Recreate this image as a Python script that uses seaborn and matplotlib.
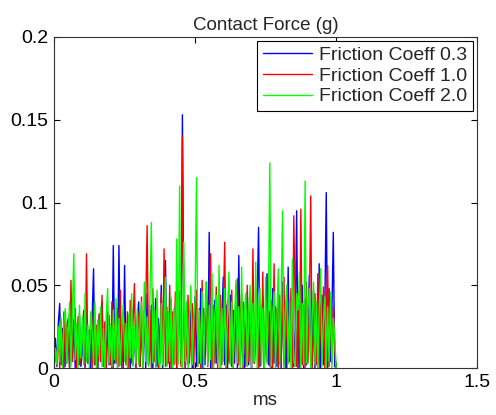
import numpy as np
import pandas as pd
import matplotlib
matplotlib.use("Agg")
import matplotlib.pyplot as plt
import matplotlib.ticker as mticker
import seaborn as sns

# time axis (ms), 0.005 ms step
time_ms = np.round(np.arange(0, 201) * 0.005, 3)

blue_03 = [
    0.000, 0.018, 0.001, 0.027, 0.039, 0.002, 0.024, 0.000, 0.031, 0.003, 0.022, 0.000, 0.035, 0.004, 0.029, 0.000, 0.026, 0.002, 0.033, 0.001,
    0.009, 0.028, 0.000, 0.036, 0.003, 0.023, 0.000, 0.030, 0.060, 0.002, 0.025, 0.000, 0.032, 0.004, 0.040, 0.001, 0.027, 0.000, 0.034, 0.002,
    0.021, 0.000, 0.074, 0.003, 0.030, 0.000, 0.074, 0.002, 0.026, 0.000, 0.062, 0.004, 0.013, 0.031, 0.000, 0.036, 0.002, 0.024, 0.000, 0.029,
    0.040, 0.001, 0.026, 0.003, 0.035, 0.000, 0.045, 0.002, 0.012, 0.038, 0.000, 0.015, 0.042, 0.001, 0.030, 0.003, 0.050, 0.000, 0.027, 0.065,
    0.002, 0.033, 0.000, 0.041, 0.004, 0.015, 0.037, 0.000, 0.028, 0.046, 0.003, 0.153, 0.031, 0.000, 0.039, 0.002, 0.017, 0.035, 0.000, 0.027,
    0.043, 0.001, 0.030, 0.003, 0.048, 0.000, 0.036, 0.002, 0.052, 0.004, 0.082, 0.000, 0.034, 0.001, 0.041, 0.003, 0.019, 0.047, 0.000, 0.031,
    0.055, 0.002, 0.038, 0.000, 0.029, 0.044, 0.001, 0.035, 0.003, 0.050, 0.000, 0.068, 0.004, 0.019, 0.040, 0.000, 0.009, 0.046, 0.002, 0.036,
    0.000, 0.053, 0.003, 0.018, 0.039, 0.085, 0.001, 0.011, 0.043, 0.000, 0.020, 0.057, 0.002, 0.034, 0.000, 0.048, 0.003, 0.037, 0.001, 0.045,
    0.031, 0.000, 0.052, 0.002, 0.040, 0.000, 0.061, 0.004, 0.019, 0.044, 0.001, 0.023, 0.095, 0.000, 0.038, 0.003, 0.050, 0.000, 0.042, 0.002,
    0.021, 0.056, 0.001, 0.014, 0.047, 0.000, 0.039, 0.003, 0.063, 0.000, 0.044, 0.002, 0.036, 0.106, 0.000, 0.048, 0.004, 0.033, 0.082, 0.001,
    0.000,
]

red_10 = [
    0.000, 0.010, 0.002, 0.021, 0.000, 0.028, 0.003, 0.034, 0.001, 0.025, 0.030, 0.000, 0.053, 0.004, 0.027, 0.036, 0.000, 0.031, 0.002, 0.006,
    0.022, 0.035, 0.001, 0.069, 0.003, 0.009, 0.029, 0.000, 0.037, 0.002, 0.026, 0.000, 0.033, 0.004, 0.044, 0.001, 0.028, 0.000, 0.023, 0.032,
    0.002, 0.040, 0.000, 0.027, 0.003, 0.036, 0.001, 0.047, 0.000, 0.030, 0.024, 0.002, 0.034, 0.000, 0.041, 0.003, 0.028, 0.051, 0.000, 0.025,
    0.033, 0.001, 0.043, 0.000, 0.029, 0.038, 0.086, 0.002, 0.035, 0.000, 0.048, 0.004, 0.019, 0.040, 0.000, 0.010, 0.045, 0.002, 0.072, 0.001,
    0.037, 0.003, 0.050, 0.000, 0.034, 0.002, 0.046, 0.000, 0.030, 0.041, 0.001, 0.140, 0.025, 0.000, 0.012, 0.044, 0.003, 0.020, 0.039, 0.000,
    0.032, 0.047, 0.002, 0.036, 0.000, 0.053, 0.004, 0.030, 0.042, 0.001, 0.034, 0.069, 0.000, 0.038, 0.003, 0.049, 0.000, 0.031, 0.044, 0.002,
    0.035, 0.076, 0.000, 0.041, 0.003, 0.012, 0.047, 0.000, 0.021, 0.039, 0.054, 0.002, 0.030, 0.045, 0.000, 0.037, 0.001, 0.050, 0.004, 0.040,
    0.000, 0.072, 0.003, 0.023, 0.046, 0.000, 0.038, 0.002, 0.058, 0.000, 0.035, 0.004, 0.048, 0.001, 0.041, 0.000, 0.063, 0.003, 0.036, 0.000,
    0.044, 0.002, 0.034, 0.055, 0.000, 0.040, 0.003, 0.013, 0.048, 0.000, 0.092, 0.036, 0.001, 0.043, 0.000, 0.096, 0.002, 0.038, 0.000, 0.052,
    0.003, 0.035, 0.104, 0.000, 0.018, 0.045, 0.002, 0.057, 0.000, 0.039, 0.004, 0.049, 0.000, 0.034, 0.062, 0.001, 0.041, 0.003, 0.037, 0.012,
    0.000,
]

green_20 = [
    0.000, 0.012, 0.002, 0.025, 0.004, 0.030, 0.000, 0.028, 0.036, 0.003, 0.022, 0.040, 0.001, 0.033, 0.069, 0.005, 0.027, 0.000, 0.038, 0.006,
    0.031, 0.002, 0.045, 0.004, 0.026, 0.000, 0.034, 0.021, 0.003, 0.040, 0.000, 0.029, 0.007, 0.037, 0.001, 0.024, 0.000, 0.032, 0.048, 0.003,
    0.026, 0.001, 0.035, 0.005, 0.042, 0.000, 0.030, 0.002, 0.023, 0.038, 0.004, 0.027, 0.000, 0.033, 0.006, 0.045, 0.001, 0.025, 0.003, 0.036,
    0.002, 0.029, 0.040, 0.000, 0.052, 0.004, 0.031, 0.001, 0.044, 0.088, 0.003, 0.035, 0.000, 0.047, 0.005, 0.000, 0.039, 0.002, 0.030, 0.055,
    0.001, 0.034, 0.004, 0.043, 0.000, 0.036, 0.003, 0.078, 0.002, 0.110, 0.006, 0.000, 0.076, 0.004, 0.040, 0.000, 0.032, 0.050, 0.002, 0.028,
    0.041, 0.115, 0.001, 0.035, 0.003, 0.046, 0.000, 0.030, 0.052, 0.002, 0.038, 0.005, 0.057, 0.000, 0.033, 0.044, 0.003, 0.062, 0.000, 0.036,
    0.004, 0.048, 0.001, 0.034, 0.058, 0.002, 0.040, 0.000, 0.031, 0.053, 0.003, 0.037, 0.000, 0.061, 0.002, 0.035, 0.045, 0.001, 0.030, 0.050,
    0.000, 0.039, 0.004, 0.064, 0.000, 0.033, 0.048, 0.002, 0.036, 0.000, 0.055, 0.003, 0.040, 0.124, 0.001, 0.032, 0.046, 0.000, 0.029, 0.060,
    0.002, 0.038, 0.095, 0.000, 0.034, 0.050, 0.003, 0.041, 0.000, 0.066, 0.004, 0.001, 0.045, 0.035, 0.058, 0.000, 0.039, 0.002, 0.113, 0.003,
    0.036, 0.048, 0.000, 0.031, 0.052, 0.002, 0.040, 0.000, 0.034, 0.060, 0.001, 0.028, 0.043, 0.000, 0.037, 0.004, 0.046, 0.000, 0.030, 0.020,
    0.000,
]

series_names = ["Friction Coeff 0.3", "Friction Coeff 1.0", "Friction Coeff 2.0"]
series_colors = ["#0000ff", "#ff0000", "#00ff00"]

df = pd.concat([
    pd.DataFrame({"ms": time_ms, "force": vals, "series": name})
    for name, vals in zip(series_names, [blue_03, red_10, green_20])
], ignore_index=True)

sns.set_style("ticks")
plt.rcParams["font.family"] = ["Liberation Sans", "DejaVu Sans"]

fig = plt.figure(figsize=(4.96, 4.15), dpi=100)
ax = fig.add_axes([0.109, 0.113, 0.853, 0.798])

sns.lineplot(data=df, x="ms", y="force", hue="series", hue_order=series_names,
             palette=series_colors, linewidth=1.0, ax=ax, estimator=None,
             legend=True)

ax.set_xlim(0, 1.5)
ax.set_ylim(0, 0.2)
ax.set_xticks([0, 0.5, 1, 1.5])
ax.set_yticks([0, 0.05, 0.1, 0.15, 0.2])
fmt = mticker.FuncFormatter(lambda v, p: "%g" % v)
ax.xaxis.set_major_formatter(fmt)
ax.yaxis.set_major_formatter(fmt)
ax.tick_params(direction="in", top=True, right=True, length=4, width=0.8,
               labelsize=14, colors="#000000", pad=4)
for s in ax.spines.values():
    s.set_visible(True)
    s.set_color("#333333")
    s.set_linewidth(0.8)

ax.set_title("Contact Force (g)", fontsize=13.5, pad=5)
ax.set_xlabel("ms", fontsize=13.5, labelpad=1)
ax.set_ylabel("")

leg = ax.legend(loc="upper right", fontsize=14, frameon=True, fancybox=False,
                edgecolor="#000000", framealpha=1, borderpad=0.3,
                handlelength=2.5, handletextpad=0.4, labelspacing=0.15,
                borderaxespad=0.2)
leg.get_frame().set_linewidth(0.8)

fig.savefig("out.png", dpi=100, facecolor="white")
